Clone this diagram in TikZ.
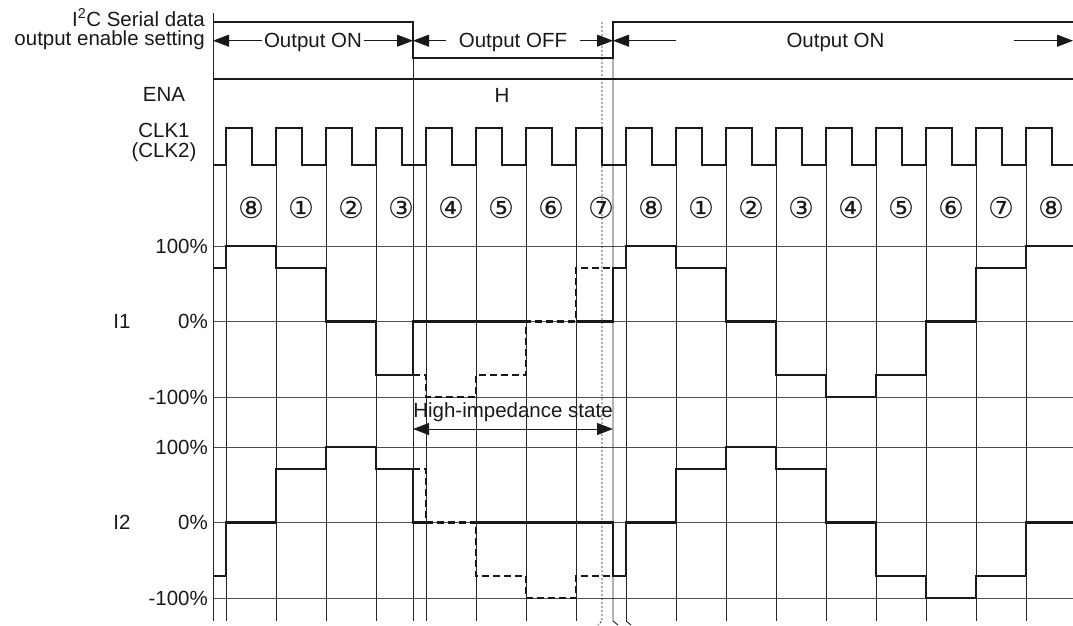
\documentclass[tikz,border=0pt]{standalone}
\usepackage{fontspec}
\setmainfont{Liberation Sans}
\newfontfamily\circfont{DejaVu Sans}
\usetikzlibrary{arrows.meta}
\begin{document}
\begin{tikzpicture}[x=1pt,y=-1pt,
  txt/.style={font=\fontsize{20.5}{20}\selectfont, inner sep=0pt, text=black!90},
  circnum/.style={font=\circfont\fontsize{29}{29}\selectfont, inner sep=0pt, text=black!90},
  gridln/.style={line width=0.9pt, black!70},
  vln/.style={line width=0.9pt, black!85},
  sig/.style={line width=2.3pt, black!90, line join=miter},
  dsig/.style={sig, dash pattern=on 7pt off 4pt},
  dimarr/.style={line width=1pt, black!90, -{Triangle[length=16pt,width=12pt]}},
  dimboth/.style={line width=1pt, black!90, {Triangle[length=16pt,width=12pt]}-{Triangle[length=16pt,width=12pt]}},
  dotln/.style={line width=0.9pt, black!90, dash pattern=on 2pt off 2pt},
]
\useasboundingbox (0,0) rectangle (1073,625);
\def\aH{246}\def\ah{268.2}\def\az{321.5}\def\al{374.8}\def\aL{397}
\def\bH{447}\def\bh{469.2}\def\bz{522.5}\def\bl{575.8}\def\bL{598}

% horizontal grid lines
\foreach \yy in {\aH,\az,\aL,\bH,\bz,\bL} \draw[gridln] (213,\yy) -- (1073,\yy);

% vertical lines
\draw[vln] (213,13) -- (213,621);
\draw[vln] (413,22) -- (413,621);
\draw[vln] (613,22) -- (613,621) -- (618,625);
\foreach \k in {0,...,16} \draw[vln] ({226+50*\k},165) -- ({226+50*\k},621);
\draw[vln] (626,621) -- (631,625);
\draw[dotln] (602,22) -- (602,621) -- (598,625);

% serial data output enable signal
\draw[sig] (213,21.7) -- (413,21.7) -- (413,58.3) -- (613,58.3) -- (613,21.7) -- (1073,21.7);
% ENA
\draw[sig] (213,79) -- (1073,79);
% clock
\draw[sig] (213,165) \foreach \k in {0,...,16} { -- ({226+50*\k},165) -- ({226+50*\k},128) -- ({252+50*\k},128) -- ({252+50*\k},165) } -- (1073,165);

% I1 solid
\draw[sig] (213,\ah) -- (226,\ah) -- (226,\aH) -- (276,\aH) -- (276,\ah) -- (326,\ah) -- (326,\az) -- (376,\az) -- (376,\al) -- (413,\al) -- (413,\az) -- (526,\az);
\draw[sig] (576,\az) -- (613,\az) -- (613,\ah) -- (626,\ah) -- (626,\aH) -- (676,\aH) -- (676,\ah) -- (726,\ah) -- (726,\az) -- (776,\az) -- (776,\al) -- (826,\al) -- (826,\aL) -- (876,\aL) -- (876,\al) -- (926,\al) -- (926,\az) -- (976,\az) -- (976,\ah) -- (1026,\ah) -- (1026,\aH) -- (1073,\aH);
% I1 dashed
\draw[dsig] (413,\al) -- (426,\al) -- (426,\aL) -- (476,\aL) -- (476,\al) -- (526,\al) -- (526,\az) -- (576,\az) -- (576,\ah) -- (613,\ah);

% I2 solid
\draw[sig] (213,\bl) -- (226,\bl) -- (226,\bz) -- (276,\bz) -- (276,\bh) -- (326,\bh) -- (326,\bH) -- (376,\bH) -- (376,\bh) -- (413,\bh) -- (413,\bz) -- (426,\bz);
\draw[sig] (476,\bz) -- (613,\bz) -- (613,\bl) -- (626,\bl) -- (626,\bz) -- (676,\bz) -- (676,\bh) -- (726,\bh) -- (726,\bH) -- (776,\bH) -- (776,\bh) -- (826,\bh) -- (826,\bz) -- (876,\bz) -- (876,\bl) -- (926,\bl) -- (926,\bL) -- (976,\bL) -- (976,\bl) -- (1026,\bl) -- (1026,\bz) -- (1073,\bz);
% I2 dashed
\draw[dsig] (413,\bh) -- (426,\bh) -- (426,\bz) -- (476,\bz) -- (476,\bl) -- (526,\bl) -- (526,\bL) -- (576,\bL) -- (576,\bl) -- (613,\bl);

% top arrows
\coordinate (t1) at (213,40.7);
\coordinate (t2) at (413,40.7);
\coordinate (t3) at (613,40.7);
\coordinate (t4) at (1073,40.7);
\coordinate (a3) at (676,40.7);
\coordinate (a4) at (1014,40.7);
\node[txt, anchor=base, inner xsep=2pt] (on1) at (313,47.5) {Output ON};
\node[txt, anchor=base, inner xsep=13pt] (off) at (513,47.5) {Output OFF};
\node[txt, anchor=base] (on2) at (835.5,47.5) {Output ON};
\draw[dimarr] (on1.west |- t1) -- (t1);
\draw[dimarr] (on1.east |- t2) -- (t2);
\draw[dimarr] (off.west |- t2) -- (t2);
\draw[dimarr] (off.east |- t3) -- (t3);
\draw[dimarr] (a3) -- (t3);
\draw[dimarr] (a4) -- (t4);

% labels
\node[txt, anchor=base east] (lab1) at (205,26) {I\textsuperscript{2}C Serial data};
\node[txt, anchor=base east] (lab2) at (205,45) {output enable setting};
\node[txt, anchor=base] (ena) at (164,101.5) {ENA};
\node[txt, anchor=base] (hlev) at (502,102) {H};
\node[txt, anchor=base] (clk1) at (164,137) {CLK1};
\node[txt, anchor=base] (clk2) at (164,157.5) {(CLK2)};

% circled numbers
\foreach \k/\c in {0/⑧,1/①,2/②,3/③,4/④,5/⑤,6/⑥,7/⑦,8/⑧,9/①,10/②,11/③,12/④,13/⑤,14/⑥,15/⑦,16/⑧}
  \node[circnum] (n\k) at ({251+50*\k},208) {\c};

% percentage labels
\node[txt, anchor=east] (p1) at (208,\aH) {100\%};
\node[txt, anchor=east] (p2) at (208,\az) {0\%};
\node[txt, anchor=east] (p3) at (208,\aL) {-100\%};
\node[txt, anchor=east] (p4) at (208,\bH) {100\%};
\node[txt, anchor=east] (p5) at (208,\bz) {0\%};
\node[txt, anchor=east] (p6) at (208,\bL) {-100\%};
\node[txt] (i1) at (122,\az) {I1};
\node[txt] (i2) at (122,\bz) {I2};

% high impedance
\coordinate (h1) at (413,429);
\coordinate (h2) at (613,429);
\node[txt, anchor=base] (hiz) at (513,417) {High-impedance state};
\draw[dimboth] (h1) -- (h2);
\end{tikzpicture}
\end{document}
